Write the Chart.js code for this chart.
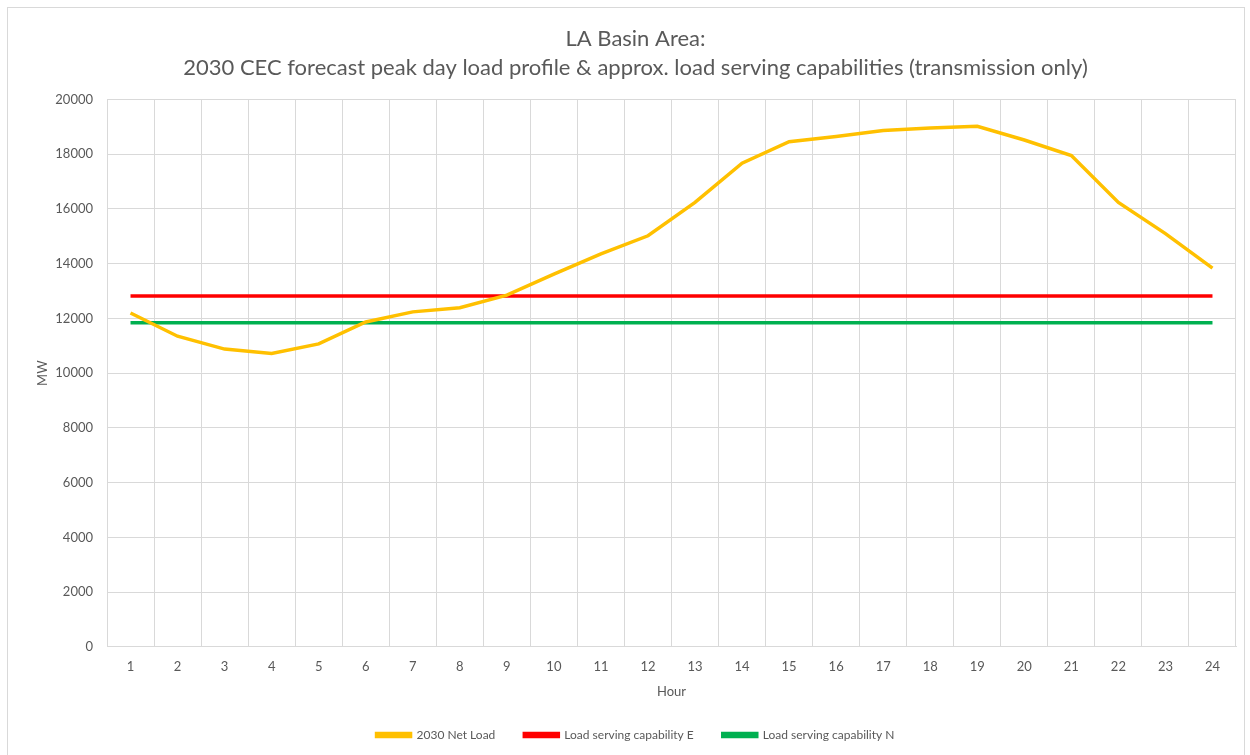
<!DOCTYPE html>
<html>
<head>
<meta charset="utf-8">
<script src="https://cdn.jsdelivr.net/npm/chart.js@4"></script>
<style>
  html, body { margin: 0; padding: 0; background: #fff; }
  #frame {
    position: absolute; left: 7px; top: 7px; width: 1236px; height: 760px;
    border: 1px solid #d9d9d9; background: #fff;
  }
  #wrap { position: absolute; left: 0; top: 0; width: 1236px; height: 747px; }
</style>
</head>
<body>
<div id="frame"><div id="wrap"><canvas id="chartLoad"></canvas></div></div>
<script>
// ── LA Basin peak day load vs. load serving capability ──────

const hours = ["1","2","3","4","5","6","7","8","9","10","11","12",
               "13","14","15","16","17","18","19","20","21","22","23","24"];

const netLoad = [12200, 11350, 10880, 10720, 11070, 11870, 12240, 12390,
                 12850, 13620, 14360, 15020, 16240, 17670, 18460, 18650,
                 18870, 18960, 19020, 18520, 17950, 16240, 15100, 13840];

const capabilityE = hours.map(() => 12820);
const capabilityN = hours.map(() => 11840);

const titleLines = [
  "LA Basin Area:",
  "2030 CEC forecast peak day load profile & approx. load serving capabilities (transmission only)",
];

const textColor = "#595959";
const gridColor = "#d9d9d9";
const fontFamily = "Lato, 'Open Sans', sans-serif";

function series(label, data, color) {
  return {
    label,
    data,
    borderColor: color,
    backgroundColor: color,
    borderWidth: 3.5,
    pointRadius: 0,
    pointHoverRadius: 0,
    tension: 0,
    fill: false,
  };
}

new Chart(document.getElementById("chartLoad"), {
  type: "line",
  data: {
    labels: hours,
    datasets: [
      series("2030 Net Load", netLoad, "#FFC000"),
      series("Load serving capability E", capabilityE, "#FF0000"),
      series("Load serving capability N", capabilityN, "#00B050"),
    ],
  },
  options: {
    responsive: true,
    maintainAspectRatio: false,
    animation: false,
    layout: { padding: { left: 27, right: 8, top: 0, bottom: 4 } },
    scales: {
      x: {
        offset: true,
        grid: { offset: true, color: gridColor, drawTicks: false },
        border: { color: gridColor },
        ticks: { color: textColor, font: { family: fontFamily, size: 13 }, padding: 12, maxRotation: 0 },
        title: {
          display: true,
          text: "Hour",
          color: textColor,
          font: { family: fontFamily, size: 13 },
          padding: { top: -2, bottom: 0 },
        },
      },
      y: {
        min: 0,
        max: 20000,
        ticks: {
          stepSize: 2000,
          color: textColor,
          font: { family: fontFamily, size: 13 },
          padding: 14,
          callback: (v) => String(v),
        },
        grid: { color: gridColor, drawTicks: false },
        border: { color: gridColor },
        title: {
          display: true,
          text: "MW",
          color: textColor,
          font: { family: fontFamily, size: 13 },
          padding: { top: 0, bottom: 4 },
        },
        afterFit: (scale) => { scale.width = 72; },
      },
    },
    plugins: {
      title: {
        display: true,
        text: titleLines,
        color: textColor,
        font: { family: fontFamily, size: 22, weight: "normal", lineHeight: 1.33 },
        padding: { top: 16, bottom: 17 },
      },
      legend: {
        display: true,
        position: "bottom",
        labels: {
          color: textColor,
          font: { family: fontFamily, size: 12 },
          boxWidth: 34,
          boxHeight: 3,
          padding: 29,
        },
      },
      tooltip: { enabled: false },
    },
  },
});
</script>
</body>
</html>
